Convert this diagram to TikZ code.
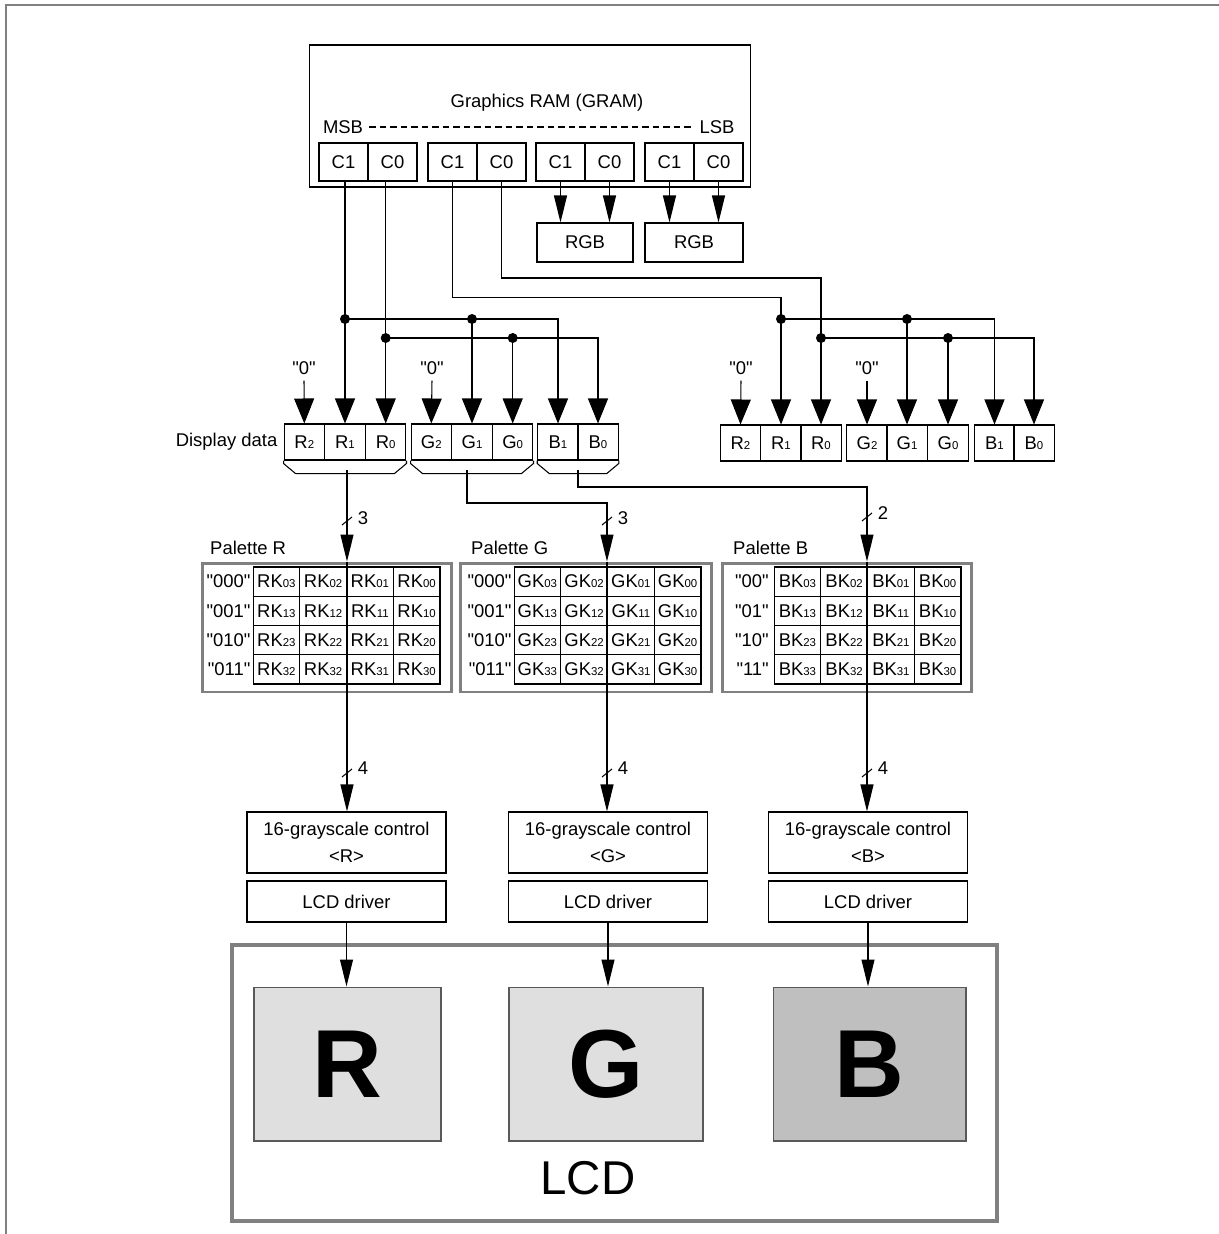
\documentclass[tikz,border=0pt]{standalone}
\usepackage{fontspec}
\setmainfont{Liberation Sans}[Ligatures=TeXOff]
\usetikzlibrary{arrows.meta}

\newcommand{\dsub}[1]{{\fontsize{6.5}{7}\selectfont #1}}

\begin{document}
\begin{tikzpicture}[x=0.02cm, y=-0.02cm, font=\fontsize{10.5}{12.6}\selectfont,
    wire/.style={line width=0.6pt},
    arr/.style={wire, -{Triangle[length=5.4mm, width=2.6mm]}},
    warr/.style={wire, -{Triangle[length=5mm, width=4mm]}},
    gcell/.style={draw, wire, minimum width=0.98cm, minimum height=0.76cm, inner sep=0pt},
    dcell/.style={draw, wire, minimum width=0.81cm, minimum height=0.72cm, inner sep=0pt},
    pcell/.style={draw, wire, minimum width=0.935cm, minimum height=0.585cm, inner sep=0pt},
    palbox/.style={draw=gray, line width=1.7pt, minimum height=2.58cm, inner sep=0pt},
    ctlbox/.style={draw, wire, minimum width=3.98cm, align=center, inner sep=0pt},
    screen/.style={draw=gray!70!black, wire, minimum height=3.08cm, font=\fontsize{55}{60}\selectfont\bfseries},
    dot/.style={circle, fill, inner sep=0pt, minimum size=2mm}]

        \useasboundingbox (0,0) rectangle (1219,1234);

        %frame
        \draw[gray, line width=1.1pt] (6,1234) -- (6,5) -- (1219,5);

        %gram
        \node[draw, wire, minimum width=8.84cm, minimum height=2.84cm] (gram) at (530,116) {};

        \node (gtitle) at (547,103) {Graphics RAM (GRAM)};

        \node (msb) at (343,127) {MSB};

        \node (lsb) at (717,127) {LSB};

        \draw[wire, dash pattern=on 1.3mm off 0.8mm] (msb.east) -- (lsb.west);

        \foreach \i/\x in {1/319, 2/428, 3/536, 4/645} {
            \node[gcell] (ga\i) at ({\x+24.5},162) {C1};
            \node[gcell] (gb\i) at ({\x+73.5},162) {C0};
        }

        \node[draw, wire, minimum width=1.92cm, minimum height=0.78cm] (rgb3) at (585,242.5) {RGB};

        \node[draw, wire, minimum width=1.96cm, minimum height=0.78cm] (rgb4) at (694,242.5) {RGB};

        \draw[arr] (ga3.south) -- (ga3.south |- rgb3.north);

        \draw[arr] (gb3.south) -- (gb3.south |- rgb3.north);

        \draw[arr] (ga4.south) -- (ga4.south |- rgb4.north);

        \draw[arr] (gb4.south) -- (gb4.south |- rgb4.north);

        %display data, left
        \node[dcell] (r2l) at (304.3,442) {R\dsub{2}};
        \node[dcell] (r1l) at (345,442) {R\dsub{1}};
        \node[dcell] (r0l) at (385.7,442) {R\dsub{0}};
        \node[dcell] (g2l) at (431.3,442) {G\dsub{2}};
        \node[dcell] (g1l) at (472,442) {G\dsub{1}};
        \node[dcell] (g0l) at (512.7,442) {G\dsub{0}};
        \node[dcell] (b1l) at (558,442) {B\dsub{1}};
        \node[dcell] (b0l) at (598,442) {B\dsub{0}};

        \node[anchor=east] (ddata) at (r2l.west) {Display data};

        %display data, right
        \node[dcell] (r2r) at (740.5,443) {R\dsub{2}};
        \node[dcell] (r1r) at (781,443) {R\dsub{1}};
        \node[dcell] (r0r) at (821,443) {R\dsub{0}};
        \node[dcell] (g2r) at (867,443) {G\dsub{2}};
        \node[dcell] (g1r) at (907,443) {G\dsub{1}};
        \node[dcell] (g0r) at (948,443) {G\dsub{0}};
        \node[dcell] (b1r) at (994.5,443) {B\dsub{1}};
        \node[dcell] (b0r) at (1034,443) {B\dsub{0}};

        %zero inputs
        \node (z1) at (304,368) {"0"};
        \node (z2) at (432,368) {"0"};
        \node (z3) at (741,368) {"0"};
        \node (z4) at (867,368) {"0"};

        \draw[warr] (z1.south) -- (r2l.north);
        \draw[warr] (z2.south) -- (g2l.north);
        \draw[warr] (z3.south) -- (r2r.north);
        \draw[warr] (z4.south) -- (g2r.north);

        %wiring
        \coordinate (rail1) at (0,319);
        \coordinate (rail0) at (0,338);
        \coordinate (bend1) at (0,297.5);
        \coordinate (bend0) at (0,278);

        \draw[warr] (r1l |- ga1.south) -- (r1l.north);
        \draw[warr] (r0l |- gb1.south) -- (r0l.north);

        \node[dot] (jr1l) at (r1l |- rail1) {};
        \node[dot] (jg1l) at (g1l |- rail1) {};
        \node[dot] (jr0l) at (r0l |- rail0) {};
        \node[dot] (jg0l) at (g0l |- rail0) {};

        \draw[warr] (jr1l.center) -| (b1l.north);
        \draw[warr] (jg1l.center) -- (g1l.north);
        \draw[warr] (jr0l.center) -| (b0l.north);
        \draw[warr] (jg0l.center) -- (g0l.north);

        \draw[warr] (ga2.south) |- (r1r |- bend1) -- (r1r.north);
        \draw[warr] (gb2.south) |- (r0r |- bend0) -- (r0r.north);

        \node[dot] (jr1r) at (r1r |- rail1) {};
        \node[dot] (jg1r) at (g1r |- rail1) {};
        \node[dot] (jr0r) at (r0r |- rail0) {};
        \node[dot] (jg0r) at (g0r |- rail0) {};

        \draw[warr] (jr1r.center) -| (b1r.north);
        \draw[warr] (jg1r.center) -- (g1r.north);
        \draw[warr] (jr0r.center) -| (b0r.north);
        \draw[warr] (jg0r.center) -- (g0r.north);

        %brackets
        \draw[wire] (r2l.south west) -- ++(0,3) -- ++(12,10) -- ([shift={(-12,13)}]r0l.south east) -- ++(12,-10) -- (r0l.south east);
        \draw[wire] (g2l.south west) -- ++(0,3) -- ++(12,10) -- ([shift={(-12,13)}]g0l.south east) -- ++(12,-10) -- (g0l.south east);
        \draw[wire] (b1l.south west) -- ++(0,3) -- ++(12,10) -- ([shift={(-12,13)}]b0l.south east) -- ++(12,-10) -- (b0l.south east);

        %palettes
        \coordinate (axR) at (347,0);
        \coordinate (axG) at (607,0);
        \coordinate (axB) at (867,0);

        \node[palbox, minimum width=5cm] (palR) at (327,627.5) {};
        \node[palbox, minimum width=5.04cm] (palG) at (586,627.5) {};
        \node[palbox, minimum width=5cm] (palB) at (847,627.5) {};

        \node[anchor=base west] (palRt) at (204,554) {Palette R};
        \node[anchor=base west] (palGt) at (465,554) {Palette G};
        \node[anchor=base west] (palBt) at (727,554) {Palette B};

        \foreach \r/\lab/\ka/\kb/\kc/\kd in {0/"000"/03/02/01/00, 1/"001"/13/12/11/10, 2/"010"/23/22/21/20, 3/"011"/32/32/31/30} {
            \node[pcell] (pr\r0) at (276.4,{581.6+29.25*\r}) {RK\dsub{\ka}};
            \node[pcell] (pr\r1) at (323.1,{581.6+29.25*\r}) {RK\dsub{\kb}};
            \node[pcell] (pr\r2) at (369.9,{581.6+29.25*\r}) {RK\dsub{\kc}};
            \node[pcell] (pr\r3) at (416.6,{581.6+29.25*\r}) {RK\dsub{\kd}};
            \node[anchor=east, inner sep=1pt] (prl\r) at (pr\r0.west) {\lab};
        }

        \foreach \r/\lab/\ka/\kb/\kc/\kd in {0/"000"/03/02/01/00, 1/"001"/13/12/11/10, 2/"010"/23/22/21/20, 3/"011"/33/32/31/30} {
            \node[pcell] (pg\r0) at (537.4,{581.6+29.25*\r}) {GK\dsub{\ka}};
            \node[pcell] (pg\r1) at (584.1,{581.6+29.25*\r}) {GK\dsub{\kb}};
            \node[pcell] (pg\r2) at (630.9,{581.6+29.25*\r}) {GK\dsub{\kc}};
            \node[pcell] (pg\r3) at (677.6,{581.6+29.25*\r}) {GK\dsub{\kd}};
            \node[anchor=east, inner sep=1pt] (pgl\r) at (pg\r0.west) {\lab};
        }

        \foreach \r/\lab/\ka/\kb/\kc/\kd in {0/"00"/03/02/01/00, 1/"01"/13/12/11/10, 2/"10"/23/22/21/20, 3/"11"/33/32/31/30} {
            \node[pcell] (pb\r0) at (797.4,{581.6+29.25*\r}) {BK\dsub{\ka}};
            \node[pcell] (pb\r1) at (844.1,{581.6+29.25*\r}) {BK\dsub{\kb}};
            \node[pcell] (pb\r2) at (890.9,{581.6+29.25*\r}) {BK\dsub{\kc}};
            \node[pcell] (pb\r3) at (937.6,{581.6+29.25*\r}) {BK\dsub{\kd}};
            \node[anchor=east, inner sep=2.5pt] (pbl\r) at (pb\r0.west) {\lab};
        }

        %palette inputs
        \coordinate (outR) at (347,470);
        \coordinate (outG) at (467,470);
        \coordinate (outB) at (578,470);
        \coordinate (gbend) at (0,503);
        \coordinate (bbend) at (0,487);

        \draw[arr] (outR) -- (axR |- palR.north);
        \draw[arr] (outG) |- (axG |- gbend) -- (axG |- palG.north);
        \draw[arr] (outB) |- (axB |- bbend) -- (axB |- palB.north);

        \draw[wire] (axR |- palR.north) -- (axR |- palR.south);
        \draw[wire] (axG |- palG.north) -- (axG |- palG.south);
        \draw[wire] (axB |- palB.north) -- (axB |- palB.south);

        %grayscale control and driver
        \node[ctlbox, minimum height=1.22cm] (ctlR) at (346.5,842.5) {16-grayscale control\\[3pt]<R>};
        \node[ctlbox, minimum height=1.22cm] (ctlG) at (608,842.5) {16-grayscale control\\[3pt]<G>};
        \node[ctlbox, minimum height=1.22cm] (ctlB) at (868,842.5) {16-grayscale control\\[3pt]<B>};

        \node[ctlbox, minimum height=0.82cm] (drvR) at (346.5,901.5) {LCD driver};
        \node[ctlbox, minimum height=0.82cm] (drvG) at (608,901.5) {LCD driver};
        \node[ctlbox, minimum height=0.82cm] (drvB) at (868,901.5) {LCD driver};

        \draw[arr] (axR |- palR.south) -- (axR |- ctlR.north);
        \draw[arr] (axG |- palG.south) -- (axG |- ctlG.north);
        \draw[arr] (axB |- palB.south) -- (axB |- ctlB.north);

        %bus widths
        \foreach \x/\y/\ly/\n [count=\i] in {347/521/518/3, 607/521/518/3, 867/517/513/2, 347/773/768/4, 607/773/768/4, 867/773/768/4} {
            \draw[wire] (\x-5,\y+4) -- (\x+5,\y-4);
            \node (bw\i) at (\x+16,\ly) {\n};
        }

        %lcd
        \node[draw=gray, line width=2.3pt, minimum width=15.3cm, minimum height=5.52cm] (lcd) at (614.5,1083) {};

        \node[screen, fill=gray!25, minimum width=3.74cm] (scrR) at (347.5,1064) {R};
        \node[screen, fill=gray!25, minimum width=3.88cm] (scrG) at (606,1064) {G};
        \node[screen, fill=gray!50, minimum width=3.86cm] (scrB) at (869.5,1064) {B};

        \node[font=\fontsize{27}{30}\selectfont] (lcdt) at (588,1178) {LCD};

        \draw[arr] (drvR.south) -- (drvR.south |- scrR.north);
        \draw[arr] (drvG.south) -- (drvG.south |- scrG.north);
        \draw[arr] (drvB.south) -- (drvB.south |- scrB.north);
\end{tikzpicture}
\end{document}
